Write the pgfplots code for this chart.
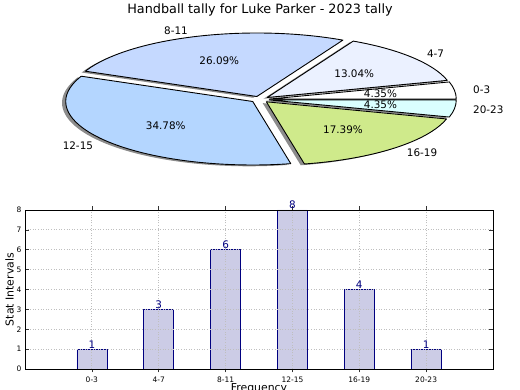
\documentclass[border=0pt]{standalone}
\usepackage{pgfplots}
\pgfplotsset{compat=1.18}
\usepackage{pgfplotstable}
\usepackage{fontspec}
\setmainfont{DejaVu Sans}

\definecolor{c0}{HTML}{FFFFFF}
\definecolor{c1}{HTML}{EBF1FF}
\definecolor{c2}{HTML}{C5D9FF}
\definecolor{c3}{HTML}{B4D6FF}
\definecolor{c4}{HTML}{CFEA8B}
\definecolor{c5}{HTML}{DAFFFF}
\definecolor{barfill}{HTML}{CCCCE6}
\definecolor{navyc}{HTML}{000080}

\pgfplotstableread{
idx label count
1 0-3 1
2 4-7 3
3 8-11 6
4 12-15 8
5 16-19 4
6 20-23 1
}\tally

\def\W#1#2{\csname #1#2\endcsname}

\begin{document}
\begin{tikzpicture}
\useasboundingbox (0,0) rectangle (520pt,390pt);
% --- pie geometry from the data
\gdef\total{0}
\foreach \r in {0,...,5}{%
  \pgfplotstablegetelem{\r}{count}\of\tally
  \pgfmathsetmacro\tt{\total+\pgfplotsretval}%
  \xdef\total{\tt}%
}
\def\cx{260}\def\cy{290.5}\def\Rx{187}\def\Ry{63.5}\def\ex{0.05}
\gdef\cum{0}
\foreach \r in {0,...,5}{%
  \pgfplotstablegetelem{\r}{count}\of\tally
  \let\v\pgfplotsretval
  \pgfmathsetmacro\a{360*\cum/\total}%
  \pgfmathsetmacro\nc{\cum+\v}%
  \pgfmathsetmacro\b{360*\nc/\total}%
  \pgfmathsetmacro\m{(\a+\b)/2}%
  \pgfmathsetmacro\px{\cx+\ex*\Rx*cos(\m)}%
  \pgfmathsetmacro\py{\cy+\ex*\Ry*sin(\m)}%
  \pgfmathsetmacro\sx{\px+\Rx*cos(\a)}%
  \pgfmathsetmacro\sy{\py+\Ry*sin(\a)}%
  \pgfmathsetmacro\tx{\px+0.6*\Rx*cos(\m)}%
  \pgfmathsetmacro\ty{\py+0.6*\Ry*sin(\m)}%
  \pgfmathsetmacro\lx{\px+1.1*\Rx*cos(\m)}%
  \pgfmathsetmacro\ly{\py+1.1*\Ry*sin(\m)}%
  \pgfmathsetmacro\pc{100*\v/\total}%
  \pgfmathsetmacro\cm{cos(\m)}%
  \ifdim\cm pt>0pt \def\anc{west}\else\def\anc{east}\fi
  \expandafter\xdef\csname wa\r\endcsname{\a}%
  \expandafter\xdef\csname wb\r\endcsname{\b}%
  \expandafter\xdef\csname px\r\endcsname{\px}%
  \expandafter\xdef\csname py\r\endcsname{\py}%
  \expandafter\xdef\csname sx\r\endcsname{\sx}%
  \expandafter\xdef\csname sy\r\endcsname{\sy}%
  \expandafter\xdef\csname tx\r\endcsname{\tx}%
  \expandafter\xdef\csname ty\r\endcsname{\ty}%
  \expandafter\xdef\csname lx\r\endcsname{\lx}%
  \expandafter\xdef\csname ly\r\endcsname{\ly}%
  \expandafter\xdef\csname pc\r\endcsname{\pc}%
  \expandafter\xdef\csname an\r\endcsname{\anc}%
  \xdef\cum{\nc}%
}
\begin{axis}[at={(0pt,0pt)}, anchor=south west, width=520pt, height=390pt,
  scale only axis, xmin=0, xmax=520, ymin=0, ymax=390, hide axis, clip=false]
\pgfplotsinvokeforeach{0,...,5}{%
  \fill[black, opacity=0.45, xshift=-3.7pt, yshift=-1.3pt]
    (axis cs:\W{sx}{#1},\W{sy}{#1})
    arc[start angle=\W{wa}{#1}, end angle=\W{wb}{#1}, x radius=\Rx pt, y radius=\Ry pt]
    -- (axis cs:\W{px}{#1},\W{py}{#1}) -- cycle;
}
\pgfplotsinvokeforeach{0,...,5}{%
  \filldraw[fill=c#1, draw=black, line width=0.9pt, line join=round]
    (axis cs:\W{sx}{#1},\W{sy}{#1})
    arc[start angle=\W{wa}{#1}, end angle=\W{wb}{#1}, x radius=\Rx pt, y radius=\Ry pt]
    -- (axis cs:\W{px}{#1},\W{py}{#1}) -- cycle;
}
\pgfplotsinvokeforeach{0,...,5}{%
  \node[font=\fontsize{10.4}{12}\selectfont, inner sep=0pt] at (axis cs:\W{tx}{#1},\W{ty}{#1})
    {\pgfmathprintnumber[fixed,fixed zerofill,precision=2,assume math mode=true]{\W{pc}{#1}}\%};
  \node[font=\fontsize{10.4}{12}\selectfont, inner sep=0pt, anchor=\W{an}{#1}] at (axis cs:\W{lx}{#1},\W{ly}{#1})
    {\pgfplotstablegetelem{#1}{label}\of\tally\pgfplotsretval};
}
\node[font=\fontsize{12.8}{15}\selectfont, inner sep=0pt] at (axis cs:260,380) {Handball tally for Luke Parker - 2023 tally};
\end{axis}

\begin{axis}[at={(25pt,21pt)}, anchor=south west, width=468pt, height=159pt,
  scale only axis, xmin=0, xmax=7, ymin=0, ymax=8,
  ytick={0,...,8}, xtick={1,...,6}, xticklabels from table={\tally}{label},
  /pgf/number format/assume math mode=true,
  ybar, bar width=30pt,
  grid=major, grid style={dash pattern=on 1pt off 1.6pt, gray!50, line width=0.8pt},
  axis on top, axis line style={line width=0.8pt},
  tick style={black!80, line width=0.5pt}, major tick length=3.5pt,
  tick label style={font=\fontsize{7.5}{8}\selectfont},
  xticklabel style={yshift=-1pt},
  nodes near coords,
  nodes near coords style={font=\fontsize{10.4}{12}\selectfont, text=navyc, inner sep=0.6pt},
  xlabel={Frequency}, ylabel={Stat Intervals},
  label style={font=\fontsize{10.9}{12}\selectfont},
  xlabel style={at={(axis description cs:0.5,0)}, anchor=north, yshift=-14pt, inner sep=0pt},
  ylabel style={at={(axis description cs:-0.0235,0.5)}, anchor=south, inner sep=0pt},
]
\addplot[fill=barfill, draw=navyc, line width=0.7pt] table[x=idx, y=count] {\tally};
\end{axis}
\end{tikzpicture}
\end{document}
